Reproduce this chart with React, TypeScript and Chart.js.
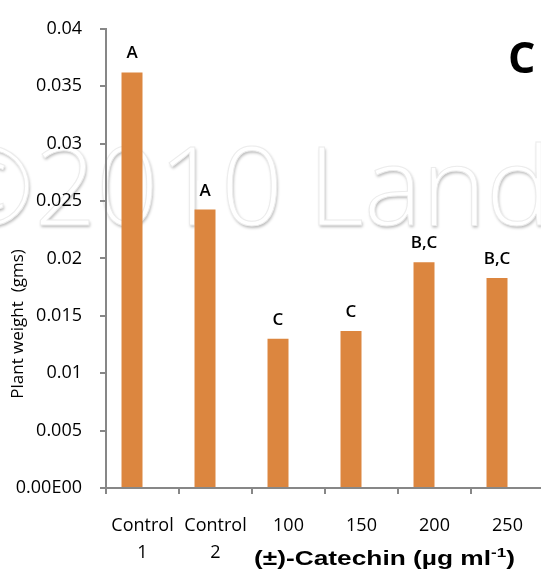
import React, { useEffect, useRef } from "react";
import { Chart, registerables } from "chart.js";

Chart.register(...registerables);

// ---- data ----
const categories: (string | string[])[] = [["Control", "1"], ["Control", "2"], "100", "150", "200", "250"];
const plantWeight: number[] = [0.0362, 0.02425, 0.013, 0.01368, 0.01966, 0.01829];
const emptySeries: (number | null)[] = [null, null, null, null, null, null];
const groupLetters: string[] = ["A", "A", "C", "C", "B,C", "B,C"];
const yTickValues: number[] = [0, 0.005, 0.01, 0.015, 0.02, 0.025, 0.03, 0.035, 0.04];
const yTickLabels: string[] = ["0.00E00", "0.005", "0.01", "0.015", "0.02", "0.025", "0.03", "0.035", "0.04"];
const yTitle = "Plant weight  (gms)";
const xTitleMain = "(±)-Catechin (µg ml";
const xTitleSup = "-1";
const xTitleEnd = ")";
const panelLetter = "C";
const watermarkLeft = "©2010";
const watermarkRight = "Landes";

// ---- styles ----
const ORANGE = "#DC863F";
const AXIS = "#878787";
const FONT = "'Open Sans', 'Noto Sans', sans-serif";

const decorPlugin = {
  id: "decor",
  beforeDraw(chart: any) {
    const ctx = chart.ctx;
    ctx.save();
    ctx.font = `300 109px ${FONT}`;
    ctx.textBaseline = "alphabetic";
    ctx.shadowColor = "rgba(0,0,0,0.28)";
    ctx.shadowBlur = 3;
    ctx.shadowOffsetX = 1;
    ctx.shadowOffsetY = 2;
    ctx.fillStyle = "#ffffff";
    ctx.textAlign = "right";
    ctx.fillText(watermarkLeft, 283, 225);
    ctx.textAlign = "left";
    ctx.fillText(watermarkRight, 308, 225);
    ctx.shadowColor = "transparent";
    ctx.strokeStyle = "#ececec";
    ctx.lineWidth = 1;
    ctx.textAlign = "right";
    ctx.strokeText(watermarkLeft, 283, 225);
    ctx.textAlign = "left";
    ctx.strokeText(watermarkRight, 308, 225);
    ctx.restore();
  },
  afterDatasetsDraw(chart: any) {
    const ctx = chart.ctx;
    const meta = chart.getDatasetMeta(0);
    ctx.save();
    ctx.font = `600 17px ${FONT}`;
    ctx.textAlign = "center";
    ctx.textBaseline = "alphabetic";
    meta.data.forEach((bar: any, i: number) => {
      const txt = groupLetters[i];
      const w = ctx.measureText(txt).width;
      const by = bar.y - 14;
      ctx.fillStyle = "#ffffff";
      ctx.fillRect(bar.x - w / 2 - 2, by - 15, w + 4, 19);
      ctx.fillStyle = "#000000";
      ctx.fillText(txt, bar.x, by);
    });
    ctx.restore();
  },
  afterDraw(chart: any) {
    const ctx = chart.ctx;
    // y title
    ctx.save();
    ctx.font = `17px ${FONT}`;
    ctx.fillStyle = "#000";
    ctx.textAlign = "center";
    ctx.textBaseline = "middle";
    ctx.translate(18, 324);
    ctx.rotate(-Math.PI / 2);
    ctx.fillText(yTitle, 0, 0);
    ctx.restore();

    // x title with superscript
    ctx.save();
    const mainFont = "bold 20px 'Liberation Sans', Arial, sans-serif";
    const supFont = "bold 13px 'Liberation Sans', Arial, sans-serif";
    ctx.font = mainFont;
    const w1 = ctx.measureText(xTitleMain).width;
    const w3 = ctx.measureText(xTitleEnd).width;
    ctx.font = supFont;
    const w2 = ctx.measureText(xTitleSup).width;
    const total = w1 + w2 + w3;
    const sx = 261 / total;
    ctx.translate(254, 565);
    ctx.scale(sx, 1);
    ctx.fillStyle = "#000";
    ctx.textAlign = "left";
    ctx.textBaseline = "alphabetic";
    ctx.font = mainFont;
    ctx.fillText(xTitleMain, 0, 0);
    ctx.font = supFont;
    ctx.fillText(xTitleSup, w1, -8);
    ctx.font = mainFont;
    ctx.fillText(xTitleEnd, w1 + w2, 0);
    ctx.restore();

    // panel letter
    ctx.save();
    ctx.font = `bold 43px ${FONT}`;
    ctx.fillStyle = "#000";
    ctx.textAlign = "left";
    ctx.textBaseline = "alphabetic";
    ctx.fillText(panelLetter, 508, 73);
    ctx.restore();
  },
};

export default function App() {
  const ref = useRef<HTMLCanvasElement | null>(null);
  useEffect(() => {
    if (!ref.current) return;
    const chart = new Chart(ref.current, {
      type: "bar",
      data: {
        labels: categories as any,
        datasets: [
          { data: plantWeight, backgroundColor: ORANGE, borderWidth: 0 },
          { data: emptySeries as any, backgroundColor: "transparent", borderWidth: 0 },
        ],
      },
      options: {
        responsive: false,
        animation: false,
        devicePixelRatio: 1,
        layout: { padding: { top: 20, left: 0, right: 6, bottom: 0 } },
        datasets: { bar: { categoryPercentage: 0.575, barPercentage: 1 } },
        plugins: { legend: { display: false }, tooltip: { enabled: false }, title: { display: false } },
        scales: {
          x: {
            grid: { display: true, drawOnChartArea: false, offset: true, tickLength: 6, color: AXIS, lineWidth: 2 },
            border: { display: true, color: AXIS, width: 2 },
            ticks: { color: "#000", font: { family: FONT, size: 18, lineHeight: 1.5 }, padding: 18, maxRotation: 0, autoSkip: false },
            afterFit: (s: any) => { s.height = 85; },
          } as any,
          y: {
            min: 0,
            max: 0.04,
            grid: { display: true, drawOnChartArea: false, tickLength: 6, color: AXIS, lineWidth: 2 },
            border: { display: true, color: AXIS, width: 2 },
            ticks: {
              stepSize: 0.005,
              color: "#000",
              padding: 18,
              font: { family: FONT, size: 18 },
              callback: (v: any) => {
                const idx = yTickValues.findIndex((t) => Math.abs(t - Number(v)) < 1e-9);
                return idx >= 0 ? yTickLabels[idx] : "";
              },
            },
            afterFit: (s: any) => { s.width = 106; },
          } as any,
        },
      },
      plugins: [decorPlugin],
    });
    return () => chart.destroy();
  }, []);
  return (
    <div style={{ position: "fixed", left: 0, top: 0, width: 541, height: 573, overflow: "hidden", background: "#fff" }}>
      <canvas ref={ref} width={550} height={573} style={{ display: "block", width: 550, height: 573 }} />
    </div>
  );
}
